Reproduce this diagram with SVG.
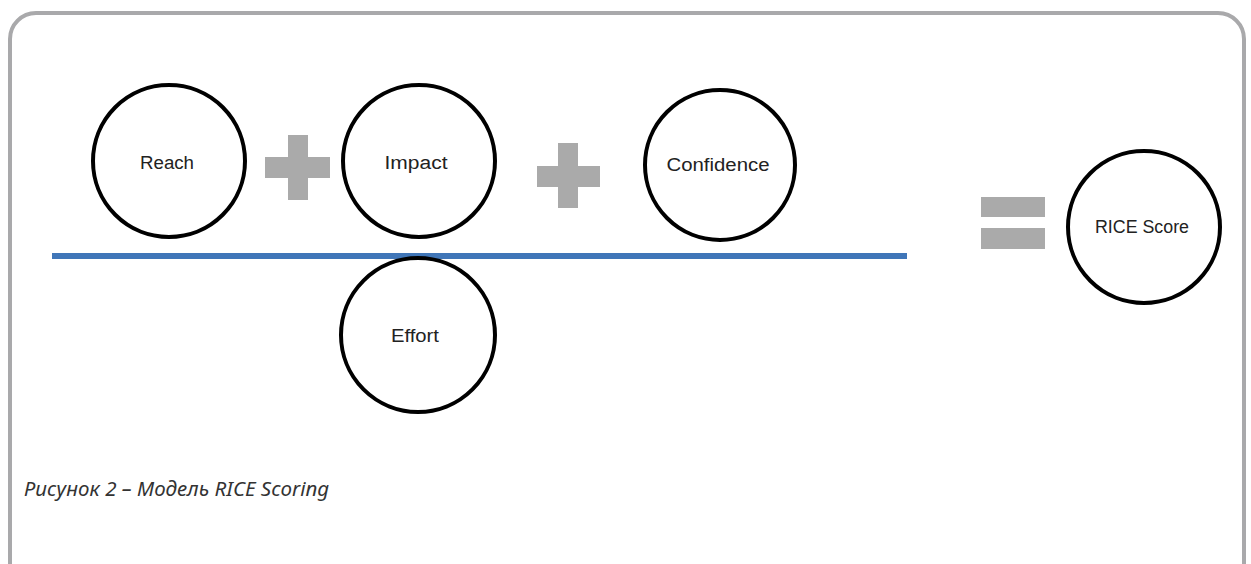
<svg xmlns="http://www.w3.org/2000/svg" width="1251" height="564" viewBox="0 0 1251 564">
<style>
.node circle{fill:#fff;stroke:#000;stroke-width:4}
.node text{font-family:"Liberation Sans","Open Sans",sans-serif;font-size:18px;fill:#222;text-anchor:middle;dominant-baseline:central}
.op{fill:#aaaaaa}
.cap{font-family:"Noto Sans","Open Sans",sans-serif;font-style:italic;font-size:20.5px;fill:#333}
</style>
<rect x="10" y="13" width="1234" height="580" rx="26" fill="#fff" stroke="#a9a9ab" stroke-width="4"/>
<g id="connectors">
<line x1="52" y1="256" x2="907" y2="256" stroke="#4076b8" stroke-width="6"/>
</g>
<g id="plus1" class="op"><rect x="265" y="157" width="65" height="21"/><rect x="288" y="135" width="20" height="65"/></g>
<g id="plus2" class="op"><rect x="537" y="166" width="63" height="21"/><rect x="558" y="143" width="20" height="65"/></g>
<g id="equals" class="op"><rect x="981" y="197" width="64" height="20"/><rect x="981" y="228" width="64" height="21"/></g>
<g id="reach" class="node"><circle cx="169" cy="161" r="76"/><text x="167" y="163" textLength="54" lengthAdjust="spacingAndGlyphs">Reach</text></g>
<g id="impact" class="node"><circle cx="419" cy="161" r="76"/><text x="416" y="163" textLength="63" lengthAdjust="spacingAndGlyphs">Impact</text></g>
<g id="confidence" class="node"><circle cx="720" cy="165" r="75"/><text x="718" y="165" textLength="103" lengthAdjust="spacingAndGlyphs">Confidence</text></g>
<g id="effort" class="node"><circle cx="418" cy="335" r="77"/><text x="415" y="336" textLength="48" lengthAdjust="spacingAndGlyphs">Effort</text></g>
<g id="rice" class="node"><circle cx="1144" cy="227" r="76"/><text x="1142" y="227" textLength="94" lengthAdjust="spacingAndGlyphs">RICE Score</text></g>
<text class="cap" x="24" y="496">Рисунок 2 – Модель RICE Scoring</text>
</svg>
